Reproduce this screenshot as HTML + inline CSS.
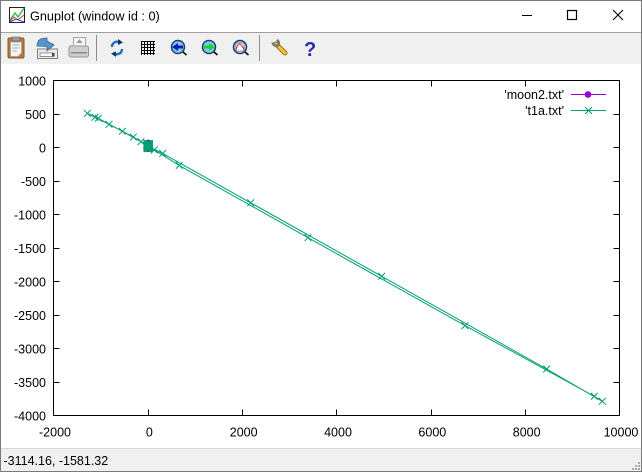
<!DOCTYPE html>
<html>
<head>
<meta charset="utf-8">
<title>Gnuplot (window id : 0)</title>
<style>
html,body{margin:0;padding:0;background:#fff;}
#win{position:relative;width:642px;height:472px;overflow:hidden;background:#fff;font-family:"Liberation Sans",sans-serif;color:#000;}
#win>svg{position:absolute;left:0;top:0;}
text{font-family:"Liberation Sans",sans-serif;font-size:12.5px;fill:#000;}
</style>
</head>
<body>
<div id="win">
<svg id="chrome" width="642" height="472" viewBox="0 0 642 472">
  <rect x="0" y="0" width="642" height="32" fill="#fff"/>
  <rect x="0" y="32" width="642" height="1" fill="#a0a0a0"/>
  <rect x="0" y="33" width="642" height="31" fill="#f0f0f0"/>
  <rect x="0" y="448" width="642" height="1" fill="#d8d8d8"/>
  <rect x="0" y="449" width="642" height="23" fill="#f0f0f0"/>
  <text x="3.5" y="465">-3114.16, -1581.32</text>

  <g>
    <rect x="9.5" y="7.5" width="15" height="15" fill="#fff" stroke="#222"/>
    <path d="M10 20 L15 13 L18 17 L24 8" fill="none" stroke="#3cc04a" stroke-width="1.5"/>
    <path d="M10 21 L14 17 L18 20 L24 15" fill="none" stroke="#e03040"/>
    <path d="M10 22 L16 19 L24 22" fill="none" stroke="#3040d0"/>
  </g>
  <text x="30" y="20.5" style="font-size:12.7px">Gnuplot (window id : 0)</text>

  <g fill="none" stroke="#000">
    <path d="M522 15.5H532"/>
    <rect x="567.5" y="10.5" width="9" height="9" stroke-width="1.2"/>
    <path d="M613 10L623 20M623 10L613 20" stroke-width="1.1"/>
  </g>

  <g>
    <rect x="8" y="38" width="16" height="20" rx="1.5" fill="#b87a3c" stroke="#8a5420"/>
    <path d="M10.5 42H21.5V53L18 56.5H10.5Z" fill="#f6f4ee" stroke="#999" stroke-width=".7"/>
    <rect x="12" y="37" width="8" height="4" fill="#999" stroke="#666" stroke-width=".6"/>
    <path d="M12.5 45H19.5M12.5 48H19.5M12.5 51H17" stroke="#aaa"/>
  </g>
  <g>
    <path d="M37.5 49H57.5V58.5H37.5Z" fill="#ececec" stroke="#808080"/>
    <rect x="40" y="53" width="13" height="3.5" fill="#fff" stroke="#666" stroke-width=".7"/>
    <rect x="52" y="53" width="2.5" height="3.5" fill="#444"/>
    <path d="M37 46C37 39 42 38 47 38V41L54 45L47 51V47C43 46 40 46 37 46Z" fill="#5a94cc" stroke="#33689c" stroke-width=".8"/>
  </g>
  <g>
    <rect x="73.5" y="37.5" width="12" height="9" fill="#f4f4f4" stroke="#a8a8a8"/>
    <path d="M79.5 39L76.5 43H82.5Z" fill="#999"/>
    <rect x="69" y="46" width="19.5" height="11" rx="2" fill="#cfcfcf" stroke="#969696"/>
    <rect x="71" y="52" width="16" height="1.5" fill="#8a8a8a"/>
  </g>
  <rect x="96" y="35" width="1" height="26" fill="#8c8c8c"/>
  <g fill="none" stroke-width="2.4">
    <path d="M112 47C112 43 115 41 120 42" stroke="#1a70c8"/>
    <path d="M118 39L123 42.5L118 45Z" fill="#103070" stroke="none"/>
    <path d="M122 49C122 53 119 55 114 54" stroke="#1a70c8"/>
    <path d="M116 51.5L111 53.5L116 57Z" fill="#103070" stroke="none"/>
  </g>
  <g stroke="#000">
    <path d="M141.500 41V55M144.500 41V55M147.500 41V55M150.500 41V55M153.500 41V55M141 41.500H155M141 44.500H155M141 47.500H155M141 50.500H155M141 53.500H155" fill="none"/>
  </g>
  <g>
    <circle cx="178" cy="47" r="6.5" fill="#88c8ec" stroke="#14406c" stroke-width="1.5"/>
    <path d="M172 47L178 43V45.500H183V48.500H178V51Z" fill="#0818c8"/>
    <path d="M183 52L186.500 55" stroke="#111" stroke-width="1.8"/>
  </g>
  <g>
    <circle cx="209" cy="47" r="6.5" fill="#88c8ec" stroke="#14406c" stroke-width="1.5"/>
    <path d="M215 47L209 43V45.500H204V48.500H209V51Z" fill="#10d830"/>
    <path d="M214 52L217.500 55" stroke="#111" stroke-width="1.8"/>
  </g>
  <g>
    <circle cx="240" cy="47" r="6.500" fill="#b8d8ec" stroke="#14406c" stroke-width="1.500"/>
    <rect x="236" y="43" width="8" height="8" fill="#fff" stroke="#555" stroke-width=".6"/>
    <path d="M236 50C238 42 241 42 244 50" fill="none" stroke="#d02020"/>
    <path d="M245 52L248.500 55" stroke="#111" stroke-width="1.800"/>
  </g>
  <rect x="259" y="35" width="1" height="26" fill="#8c8c8c"/>
  <g fill="none">
    <path d="M276 44L285 53" stroke="#9a6c10" stroke-width="5" stroke-linecap="round"/>
    <path d="M276 44L285 53" stroke="#f4c838" stroke-width="3" stroke-linecap="round"/>
    <path d="M272.500 42.500C273 45 275.500 46.500 278 45.500C279.500 44 279 41.500 277 39.800" stroke="#777" stroke-width="2.500"/>
  </g>
  <text x="304" y="56" style="font-size:20px;font-weight:bold;fill:#2a28a8">?</text>

  <g fill="#a8a8a8">
    <rect x="638" y="462" width="2" height="2"/><rect x="635" y="465" width="2" height="2"/><rect x="638" y="465" width="2" height="2"/>
    <rect x="632" y="468" width="2" height="2"/><rect x="635" y="468" width="2" height="2"/><rect x="638" y="468" width="2" height="2"/>
  </g>
  <g fill="#7a7a7a">
    <rect x="0" y="0" width="642" height="1"/><rect x="0" y="0" width="1" height="472"/>
    <rect x="641" y="0" width="1" height="472"/><rect x="0" y="471" width="642" height="1"/>
  </g>
</svg>
<svg id="plot" width="642" height="472" viewBox="0 0 642 472"></svg>
</div>
<script>
const xTickValues = [-2000, 0, 2000, 4000, 6000, 8000, 10000];
const yTickValues = [1000, 500, 0, -500, -1000, -1500, -2000, -2500, -3000, -3500, -4000];
const seriesNames = ["'moon2.txt'", "'t1a.txt'"];
const moonX = [8, 12, 6, 2, 6, 9];
const moonY = [87, 60, 30, -5, -25, -38];
const t1aX = [-22,-12,-2,8,18,28,38,33,23,13,3,-7,-17,-22,-12,-2,8,18,28,38,33,23,13,3,-7,-17,-22,-12,-2,8,18,28,38,33,23,13,3,-7,-17,
  137,667,3396,6724,9465,9635,8456,4958,2181,315,30,-145,-541,-1050,-1283,-1120,-823,-308,-20];
const t1aY = [56,56,56,56,56,56,56,44,44,44,44,44,44,31,31,31,31,31,31,31,14,14,14,14,14,14,2,2,2,2,2,2,2,-14,-14,-14,-14,-14,-14,
  -37,-267,-1346,-2658,-3713,-3788,-3306,-1922,-825,-88,10,87,242,436,510,451,346,157,30];

const SVG_NS = 'http://www.w3.org/2000/svg';
const plot = document.getElementById('plot');
const box = {left: 53.5, right: 619.5, top: 80.5, bottom: 415.5};
const xMin = -2000, xMax = 10000, yMin = -4000, yMax = 1000;
function xScale(v){ return box.left + (v - xMin) / (xMax - xMin) * (box.right - box.left); }
function yScale(v){ return box.bottom - (v - yMin) / (yMax - yMin) * (box.bottom - box.top); }
function make(tag, attrs, parent){
  const el = document.createElementNS(SVG_NS, tag);
  for (const k in attrs) el.setAttribute(k, attrs[k]);
  (parent || plot).appendChild(el);
  return el;
}
function pathFrom(xs, ys){
  return xs.map(function(v, i){ return (i ? 'L' : 'M') + xScale(v).toFixed(2) + ' ' + yScale(ys[i]).toFixed(2); }).join('');
}
function crossPath(cx, cy, r){
  return 'M' + (cx - r) + ' ' + (cy - r) + 'L' + (cx + r) + ' ' + (cy + r) + 'M' + (cx - r) + ' ' + (cy + r) + 'L' + (cx + r) + ' ' + (cy - r);
}

xTickValues.forEach(function(v){
  const x = Math.round(xScale(v) - 0.17) + 0.5;
  const t = make('path', {d: 'M' + x + ' ' + box.bottom + 'V' + (box.bottom - 6) + 'M' + x + ' ' + box.top + 'V' + (box.top + 6), stroke: '#000', fill: 'none'});
  
  
  const l = make('text', {x: xScale(v) + 1.5, y: 436.5, 'text-anchor': 'middle'});
  l.textContent = String(v);
  
  
});
yTickValues.forEach(function(v){
  const y = Math.round(yScale(v) - 0.5) + 0.5;
  const t = make('path', {d: 'M' + box.left + ' ' + y + 'H' + (box.left + 6) + 'M' + box.right + ' ' + y + 'H' + (box.right - 6), stroke: '#000', fill: 'none'});
  
  
  const l = make('text', {x: 46, y: yScale(v) + 5.2, 'text-anchor': 'end'});
  l.textContent = String(v);
  
  
});

const moonLine = make('path', {d: pathFrom(moonX, moonY), fill: 'none', stroke: '#9400d3'});


moonX.forEach(function(v, i){
  const c = make('circle', {cx: xScale(v), cy: yScale(moonY[i]), r: 2, fill: '#9400d3'});
  
  
});

const t1aLine = make('path', {d: pathFrom(t1aX, t1aY), fill: 'none', stroke: '#009e73'});


t1aX.forEach(function(v, i){
  const m = make('path', {d: crossPath(xScale(v), yScale(t1aY[i]), 3.4), fill: 'none', stroke: '#009e73'});
  
  
});

const legendRows = [{y: 94.5, color: '#9400d3'}, {y: 110.5, color: '#009e73'}];
seriesNames.forEach(function(name, i){
  const row = legendRows[i];
  const g = make('g', {});
  
  
  const t = make('text', {x: 564, y: row.y + 4.5, 'text-anchor': 'end'}, g);
  t.textContent = name;
  make('path', {d: 'M571 ' + row.y + 'H606', stroke: row.color, fill: 'none'}, g);
  if (i === 0) make('circle', {cx: 588, cy: row.y, r: 3.3, fill: row.color}, g);
  else make('path', {d: crossPath(588.5, row.y, 3.4), stroke: row.color, fill: 'none'}, g);
});

const border = make('rect', {x: box.left, y: box.top, width: box.right - box.left, height: box.bottom - box.top, fill: 'none', stroke: '#000'});


</script>
</body>
</html>
